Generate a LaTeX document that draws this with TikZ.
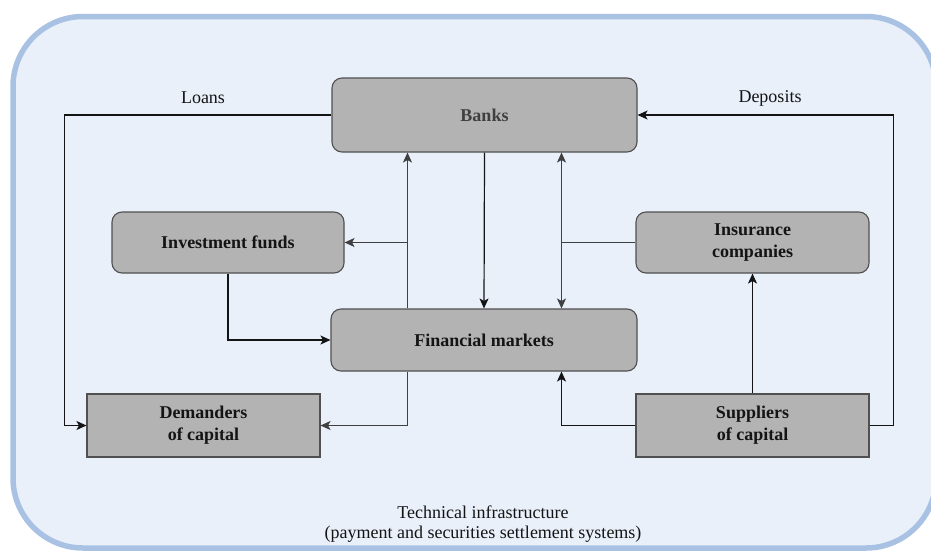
\documentclass[tikz,border=0pt]{standalone}
\usepackage{fontspec}
\setmainfont{Liberation Serif}
\usetikzlibrary{arrows.meta,calc}

\definecolor{frameFill}{HTML}{E9F0FA}
\definecolor{frameLine}{HTML}{A9C2E3}
\definecolor{boxFill}{HTML}{B3B3B3}
\definecolor{boxLine}{HTML}{505050}
\definecolor{ink}{HTML}{141414}
\definecolor{softInk}{HTML}{404040}

\tikzset{
  tip/.tip={Stealth[length=10pt,width=9pt,inset=2.5pt]},
  basebox/.style={draw=boxLine, fill=boxFill, line width=1.1pt, inner sep=0pt,
    align=center, text=ink, font=\fontsize{18}{22}\selectfont\bfseries},
  roundbox/.style={basebox, rounded corners=10pt},
  squarebox/.style={basebox},
  conn/.style={draw=ink, line width=1.2pt, -tip},
  plainconn/.style={draw=ink, line width=1.2pt},
  label/.style={font=\fontsize{18}{20}\selectfont, text=ink, align=center, inner sep=0pt}
}

\begin{document}
\begin{tikzpicture}[x=1pt,y=-1pt]
  \useasboundingbox (0,0) rectangle (931,552);
  \begin{scope}
    \clip (0,0) rectangle (931,552);
    % outer frame of the technical infrastructure
    \draw[draw=frameLine, fill=frameFill, line width=5.5pt, rounded corners=70pt]
      (13,16.5) rectangle (936,548);
  \end{scope}

  % institutions and markets
  \node[roundbox, minimum width=305pt, minimum height=74pt, text=softInk] (banks) at (484.5,115) {Banks};
  \node[roundbox, minimum width=232pt, minimum height=61pt] (inv) at (228,242.5) {Investment funds};
  \node[roundbox, minimum width=233pt, minimum height=61pt] (ins) at (752.5,242.5) {Insurance\\companies};
  \node[roundbox, minimum width=306pt, minimum height=62pt] (fin) at (484,340) {Financial markets};
  \node[squarebox, minimum width=233pt, minimum height=63pt] (dem) at (203.5,425.5) {Demanders\\of capital};
  \node[squarebox, minimum width=233pt, minimum height=63pt] (sup) at (752.5,425.5) {Suppliers\\of capital};

  % routing columns
  \coordinate (lx) at (64.5,0);
  \coordinate (rx) at (893.5,0);
  \coordinate (cl) at (407.5,0);
  \coordinate (cr) at (561.5,0);

  % loans and deposits
  \draw[conn] (banks.west) -- (banks.west -| lx) -- (dem.west -| lx) -- (dem.west);
  \draw[conn] (sup.east) -- (sup.east -| rx) -- (banks.east -| rx) -- (banks.east);
  \node[label] (loans) at (203,98) {Loans};
  \node[label] (deps) at (770,98) {Deposits};

  % banks <-> financial markets
  \draw[conn] (banks.south) -- (fin.north);
  \draw[conn, draw=softInk] (fin.north -| cl) -- (banks.south -| cl);
  \draw[conn, draw=softInk] (fin.north -| cl) |- (inv.east);
  \draw[conn, draw=softInk] (fin.south -| cl) |- (dem.east);
  \draw[conn, draw=softInk, tip-tip] (banks.south -| cr) -- (fin.north -| cr);
  \draw[plainconn, draw=softInk] (ins.west) -- (ins.west -| cr);

  % funds and suppliers
  \draw[conn] (inv.south) |- (fin.west);
  \draw[conn] (sup.north) -- (ins.south);
  \draw[conn] (sup.west) -| (fin.south -| cr);

  % caption
  \node[label] (infra) at (483,524) {Technical infrastructure\\(payment and securities settlement systems)};
\end{tikzpicture}
\end{document}
